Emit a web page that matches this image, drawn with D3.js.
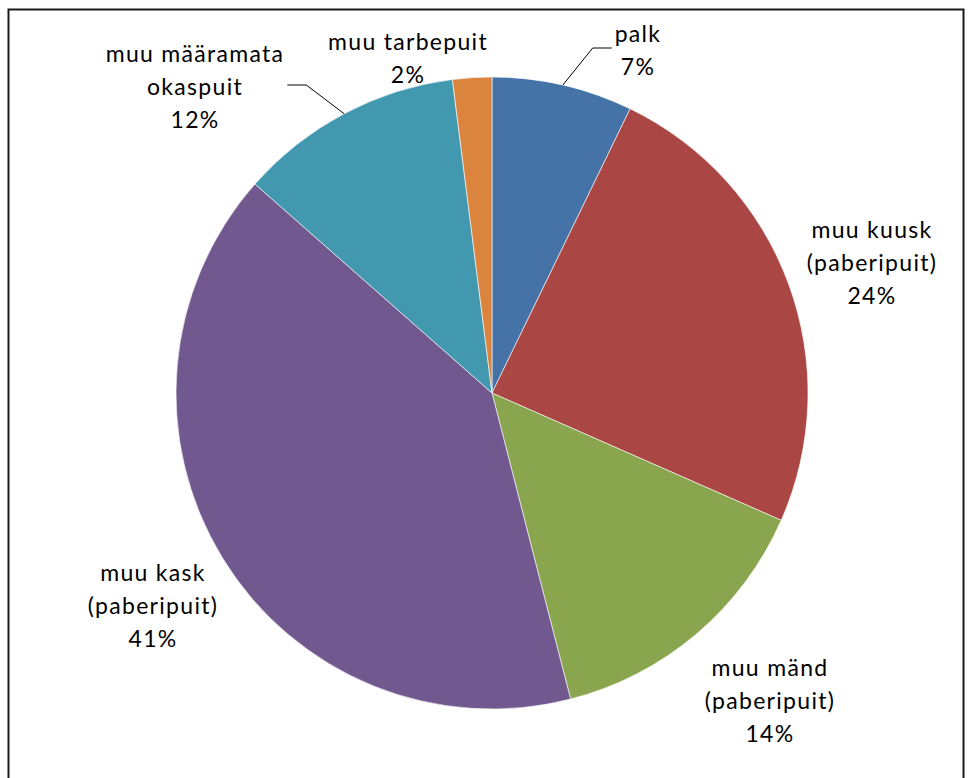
<!DOCTYPE html>
<html>
<head>
<meta charset="utf-8">
<script src="https://cdn.jsdelivr.net/npm/d3@7"></script>
<style>
  body { margin: 0; background: #fff; }
  svg text { font-family: Lato, "Open Sans", sans-serif; font-size: 23px; letter-spacing: 1.3px; fill: #000; }
</style>
</head>
<body>
<svg id="chart" width="969" height="778"></svg>
<script>
// wood assortment shares, clockwise from 12 o'clock
var categories = ["palk", "muu kuusk (paberipuit)", "muu mänd (paberipuit)", "muu kask (paberipuit)", "muu määramata okaspuit", "muu tarbepuit"]
var labelLines = [["palk"], ["muu kuusk", "(paberipuit)"], ["muu mänd", "(paberipuit)"], ["muu kask", "(paberipuit)"], ["muu määramata", "okaspuit"], ["muu tarbepuit"]]
var shares = [7.2, 24.4, 14.4, 40.5, 11.5, 2.0]
var colors = ["#4572A7", "#AA4643", "#89A54E", "#71588F", "#4198AF", "#DB843D"]

var width = 969, height = 778
var cx = 492, cy = 393, radius = 316
var lineGap = 33

// where excel dropped the labels (center x, first baseline) - relative to pie center
var labelSpot = [[146, -351], [380, -155], [278, 283], [-339, 188], [-297, -331], [-84, -343]]
var hasLeader = [true, false, false, false, true, false]

var svg = d3.select("#chart")

svg.append("rect")
  .attr("x", 8.5).attr("y", 9.5)
  .attr("width", 955).attr("height", 800)
  .style("fill", "none").style("stroke", "#1a1a1a").style("stroke-width", 2)

var data = categories.map(function(c, i){ return { name: c, value: shares[i], idx: i } })
var total = d3.sum(shares)

var pie = d3.pie().sort(null).value(function(d){ return d.value })
var arc = d3.arc().innerRadius(0).outerRadius(radius)

var g = svg.append("g").attr("transform", "translate(" + cx + "," + cy + ")")

var arcs = pie(data)

g.selectAll("path.slice")
    .data(arcs)
  .enter().append("path")
    .attr("class", "slice")
    .attr("d", arc)
    .style("fill", function(d){ return colors[d.data.idx] })
    .style("stroke", "#fff")
    .style("stroke-width", 0.6)

// labels
arcs.forEach(function(d){
  var i = d.data.idx
  var lines = labelLines[i].concat([Math.round(d.data.value / total * 100) + "%"])
  var pos = labelSpot[i]
  var t = g.append("text").attr("text-anchor", "middle")
  lines.forEach(function(s, k){
    t.append("tspan").attr("x", pos[0]).attr("y", pos[1] + k * lineGap).text(s)
  })

  if (hasLeader[i]) {
    var mid = (d.startAngle + d.endAngle) / 2
    var sx = Math.sin(mid) * radius, sy = -Math.cos(mid) * radius
    var bbox = t.node().getBBox()
    var ly = pos[1] + 6
    var right = sx > pos[0]
    var ex = right ? bbox.x + bbox.width + 3 : bbox.x - 3
    var elbowX = right ? ex + 19 : ex - 19
    if (lines.length > 2) { ly = pos[1] + lineGap - 10 }
    g.append("polyline")
      .attr("points", [[sx, sy], [elbowX, ly], [ex, ly]].map(function(p){ return p.join(",") }).join(" "))
      .style("fill", "none").style("stroke", "#000").style("stroke-width", 1)
  }
})
</script>
</body>
</html>
